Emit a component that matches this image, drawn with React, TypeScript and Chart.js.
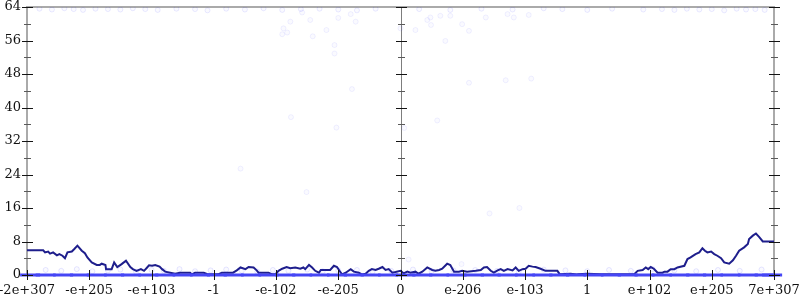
import React, { useEffect, useRef } from "react";
import { Chart, registerables } from "chart.js";

Chart.register(...registerables);

// Tick labels of the (float-ordinal) x axis, one per integer position -6..6
const xTickLabels = [
  "-2e+307", "-e+205", "-e+103", "-1", "-e-102", "-e-205", "0",
  "e-206", "e-103", "1", "e+102", "e+205", "7e+307",
];
const xMin = -6;
const xMax = 6;
const yMin = 0;
const yMax = 64;
const yStep = 8;

// Main (dark) line
const lineX = [
  -6.0, -5.74, -5.71, -5.66, -5.63, -5.58, -5.52, -5.48, -5.43, -5.39, -5.35, -5.28, -5.24, -5.19,
  -5.12, -5.07, -5.03, -4.96, -4.88, -4.83, -4.8, -4.74, -4.73, -4.64, -4.6, -4.55, -4.48, -4.41,
  -4.34, -4.3, -4.24, -4.17, -4.12, -4.07, -4.04, -3.99, -3.94, -3.87, -3.83, -3.78, -3.7, -3.62,
  -3.54, -3.38, -3.35, -3.3, -3.16, -3.09, -2.93, -2.87, -2.69, -2.63, -2.57, -2.49, -2.44, -2.36,
  -2.31, -2.28, -2.12, -2.06, -2.01, -1.96, -1.9, -1.83, -1.77, -1.69, -1.61, -1.56, -1.53, -1.47,
  -1.42, -1.37, -1.31, -1.28, -1.13, -1.07, -1.02, -0.98, -0.94, -0.88, -0.8, -0.75, -0.67, -0.62,
  -0.56, -0.51, -0.46, -0.4, -0.35, -0.29, -0.24, -0.19, -0.13, -0.08, 0.0,
  0.05, 0.11, 0.16, 0.24, 0.29, 0.35, 0.43, 0.51, 0.56, 0.62, 0.67, 0.75, 0.8, 0.86, 0.94, 0.99,
  1.07, 1.21, 1.29, 1.34, 1.39, 1.45, 1.5, 1.56, 1.61, 1.66, 1.72, 1.8, 1.85, 1.9, 1.96, 2.01,
  2.06, 2.12, 2.17, 2.25, 2.33, 2.52, 2.56, 2.73, 2.84, 3.0, 3.22, 3.75, 3.81, 3.89, 3.94, 3.98,
  4.02, 4.07, 4.13, 4.21, 4.24, 4.29, 4.34, 4.4, 4.45, 4.56, 4.61, 4.66, 4.74, 4.8, 4.85, 4.89,
  4.93, 4.99, 5.04, 5.09, 5.15, 5.2, 5.28, 5.34, 5.39, 5.44, 5.52, 5.58, 5.6, 5.66, 5.71, 5.76,
  5.82, 6.0,
];
const lineY = [
  5.9, 5.9, 5.4, 5.6, 5.1, 5.4, 4.7, 5.0, 4.6, 4.0, 5.4, 5.6, 6.2, 7.0,
  5.8, 5.2, 4.2, 3.0, 2.4, 2.4, 2.7, 2.4, 1.4, 1.4, 3.0, 1.9, 2.6, 3.4,
  1.9, 1.4, 1.0, 1.4, 1.0, 1.8, 2.3, 2.2, 2.4, 2.0, 1.4, 0.8, 0.55, 0.3,
  0.55, 0.55, 0.15, 0.55, 0.55, 0.15, 0.15, 0.55, 0.55, 1.1, 1.8, 1.4, 1.9, 1.8,
  1.1, 0.55, 0.55, 0.15, 0.15, 1.0, 1.5, 1.9, 1.6, 1.8, 1.5, 1.8, 1.4, 2.4,
  1.8, 1.0, 0.55, 1.2, 1.2, 2.2, 1.9, 1.0, 0.15, 0.55, 1.4, 0.8, 0.55, 0.15,
  0.3, 1.0, 1.4, 1.2, 1.5, 1.9, 1.2, 1.4, 0.55, 0.7, 1.0,
  0.4, 0.8, 0.55, 0.8, 0.3, 0.8, 1.8, 1.2, 1.0, 1.2, 1.5, 2.7, 2.4, 0.8, 0.8, 1.0,
  0.8, 1.0, 1.2, 1.8, 1.9, 1.0, 0.55, 1.1, 1.4, 1.0, 1.4, 1.1, 1.8, 1.0, 1.4, 1.5,
  2.2, 2.0, 1.9, 1.5, 1.0, 1.0, 0.15, 0.3, 0.15, 0.3, 0.15, 0.15, 1.0, 1.2, 1.8, 1.4,
  1.9, 1.5, 0.55, 0.55, 0.8, 0.8, 1.4, 1.4, 1.8, 2.2, 3.8, 4.2, 5.0, 5.4, 6.4, 5.8,
  5.4, 5.6, 5.0, 4.6, 4.0, 3.0, 2.7, 3.5, 4.6, 5.8, 6.6, 7.4, 8.6, 9.4, 9.9, 9.1,
  8.0, 8.0,
];

// Dense samples sitting at zero
const zeroBandX = [
  -5.95, -5.7, -5.42, -5.15, -4.88, -4.6, -4.33, -4.05, -3.78, -3.5, -3.22, -2.95, -2.68, -2.4,
  -2.12, -1.85, -1.58, -1.3, -1.02, -0.75, -0.48, -0.2, 0.08, 0.35, 0.62, 0.9, 1.18, 1.45, 1.72,
  2.0, 2.28, 2.55, 2.82, 3.1, 3.38, 3.65, 3.92, 4.2, 4.48, 4.75, 5.02, 5.3, 5.58, 5.85, 5.97,
];
const zeroBandY = zeroBandX.map(() => 0);

// Faint samples just above zero
const lowDotsX = [
  -5.7, -5.45, -5.2, -4.95, -4.7, -4.5, -4.25, -4.0, -3.8, -3.55, -3.3, -3.05, -2.8, -2.55, -2.3,
  -2.05, -1.8, -1.5, -1.25, -1.0, -0.7, -0.45, -0.15, 0.2, 0.5, 0.85, 1.2, 1.55, 1.9, 2.3, 2.65,
  3.0, 3.35, 3.7, 4.05, 4.4, 4.75, 5.1, 5.45, 5.8,
];
const lowDotsY = [
  1.2, 1.0, 1.4, 0.9, 1.1, 1.3, 0.8, 1.2, 1.0, 1.4, 0.9, 1.1, 1.3, 1.0, 0.8,
  1.2, 1.0, 1.3, 0.9, 1.1, 1.2, 0.8, 1.0, 1.3, 0.9, 1.1, 1.2, 1.0, 0.8, 1.3, 1.1,
  0.9, 1.2, 1.0, 1.4, 1.1, 0.9, 1.2, 1.0, 1.3,
];

// Faint samples at the top edge
const topDotsX = [
  -5.8, -5.6, -5.4, -5.25, -5.1, -4.9, -4.7, -4.5, -4.3, -4.1, -3.9, -3.6, -3.3, -3.1, -2.8,
  -2.5, -2.2, -1.9, -1.6, -1.3, -1.0, -0.7, -0.4, 0.3, 0.8, 1.3, 1.8, 2.3, 2.6, 3.0, 3.4, 3.9,
  4.2, 4.4, 4.6, 4.8, 5.0, 5.2, 5.4, 5.55, 5.7, 5.85,
];
const topDotsY = [
  63.6, 63.4, 63.7, 63.5, 63.3, 63.6, 63.5, 63.4, 63.7, 63.5, 63.3, 63.6, 63.5, 63.2, 63.6,
  63.4, 63.7, 63.3, 63.5, 63.6, 63.4, 63.2, 63.6, 63.5, 63.3, 63.6, 63.4, 63.7, 63.5, 63.3, 63.6, 63.4,
  63.5, 63.3, 63.6, 63.4, 63.5, 63.2, 63.6, 63.4, 63.5, 63.3,
];

// Scattered faint samples
const scatterDotsX = [
  -1.58, -1.88, -1.9, -1.82, -1.77, -1.45, -1.41, -1.19, -1.06, -1.06, -1.0, -0.8, -0.72, -0.78,
  -1.76, -1.03, 0.0, 0.24, 0.43, 0.48, 0.49, 0.64, 0.8, 0.99, 1.1, 0.72, 1.37, 1.72, 1.82, 2.06,
  1.1, 1.69, 2.1, 0.59, 0.06, -2.57, -1.51, 1.43, 1.91, 0.13, 0.98,
];
const scatterDotsY = [
  62.7, 58.9, 57.5, 57.9, 60.5, 60.9, 57.0, 58.5, 54.9, 52.9, 61.4, 62.3, 60.5, 44.4,
  37.7, 35.2, 58.9, 58.5, 60.9, 61.5, 59.7, 61.9, 61.9, 59.9, 58.3, 55.9, 61.5, 62.3, 61.5, 62.1,
  45.9, 46.5, 46.9, 36.9, 35.1, 25.4, 19.8, 14.7, 16.0, 3.7, 2.6,
];

const toPoints = (xs: number[], ys: number[]) => xs.map((x, i) => ({ x, y: ys[i] }));

const FONT = { family: "'DejaVu Serif', serif", size: 13 };

const axesPlugin = {
  id: "axesFrame",
  beforeDatasetsDraw(chart: any) {
    const { ctx, chartArea, scales } = chart;
    const { left, right, top, bottom } = chartArea;
    const xs = scales.x;
    ctx.save();
    ctx.strokeStyle = "rgb(170,170,170)";
    ctx.lineWidth = 2;
    ctx.beginPath();
    ctx.moveTo(left, bottom);
    ctx.lineTo(left, top);
    ctx.lineTo(right, top);
    ctx.lineTo(right, bottom);
    ctx.closePath();
    ctx.stroke();
    const mid = Math.round(xs.getPixelForValue(0)) + 0.5;
    ctx.strokeStyle = "rgb(125,125,125)";
    ctx.lineWidth = 1;
    ctx.beginPath();
    ctx.moveTo(mid, top);
    ctx.lineTo(mid, bottom);
    ctx.stroke();
    ctx.restore();
  },
  afterDatasetsDraw(chart: any) {
    const { ctx, chartArea, scales } = chart;
    const { left, right, bottom } = chartArea;
    const xs = scales.x;
    const ys = scales.y;
    const mid = xs.getPixelForValue(0);
    const columns = [left, mid, right];
    ctx.save();
    ctx.lineWidth = 1;
    const yTicks = ys.ticks.map((t: any) => t.value);
    yTicks.forEach((v: number, i: number) => {
      const py = Math.round(ys.getPixelForValue(v)) + 0.5;
      ctx.strokeStyle = "rgb(20,20,20)";
      columns.forEach((cx) => {
        const c = Math.round(cx);
        ctx.beginPath();
        ctx.moveTo(c - 5, py);
        ctx.lineTo(c + 6, py);
        ctx.stroke();
      });
      if (i < yTicks.length - 1) {
        const mv = (v + yTicks[i + 1]) / 2;
        const pm = Math.round(ys.getPixelForValue(mv)) + 0.5;
        ctx.strokeStyle = "rgb(90,90,90)";
        columns.forEach((cx) => {
          const c = Math.round(cx);
          ctx.beginPath();
          ctx.moveTo(c - 3, pm);
          ctx.lineTo(c + 4, pm);
          ctx.stroke();
        });
      }
    });
    ctx.strokeStyle = "rgb(20,20,20)";
    xs.ticks.forEach((t: any) => {
      const px = Math.round(xs.getPixelForValue(t.value)) + 0.5;
      ctx.beginPath();
      ctx.moveTo(px, bottom - 5);
      ctx.lineTo(px, bottom + 5);
      ctx.stroke();
    });
    ctx.restore();
  },
};

export default function App() {
  const canvasRef = useRef<HTMLCanvasElement | null>(null);

  useEffect(() => {
    if (!canvasRef.current) return;
    const faint = {
      type: "scatter" as const,
      showLine: false,
      pointRadius: 2.5,
      pointBackgroundColor: "rgba(60,60,255,0.025)",
      pointBorderColor: "rgba(60,60,255,0.07)",
      pointBorderWidth: 1,
    };
    const chart = new Chart(canvasRef.current, {
      type: "scatter",
      data: {
        datasets: [
          { ...faint, data: toPoints(scatterDotsX, scatterDotsY) },
          { ...faint, data: toPoints(topDotsX, topDotsY), pointBorderColor: "rgba(60,60,255,0.1)" },
          { ...faint, data: toPoints(lowDotsX, lowDotsY), pointBorderColor: "rgba(60,60,255,0.12)" },
          {
            type: "scatter",
            data: toPoints(zeroBandX, zeroBandY),
            showLine: false,
            pointStyle: "line",
            pointRadius: 10,
            pointBorderWidth: 3,
            pointBorderColor: "rgb(70,70,245)",
            clip: false,
          } as any,
          {
            type: "line",
            data: toPoints(lineX, lineY),
            borderColor: "#1e1e8c",
            borderWidth: 2,
            pointRadius: 0,
            fill: false,
            tension: 0,
          } as any,
        ],
      },
      options: {
        animation: false,
        responsive: true,
        maintainAspectRatio: false,
        layout: { padding: { top: 7, right: 26, left: 0, bottom: 0 }, autoPadding: false } as any,
        plugins: { legend: { display: false }, tooltip: { enabled: false } },
        events: [],
        scales: {
          x: {
            type: "linear",
            min: xMin,
            max: xMax,
            grid: { display: false, drawTicks: false },
            border: { display: false },
            ticks: {
              stepSize: 1,
              autoSkip: false,
              maxRotation: 0,
              padding: 8,
              color: "#111",
              font: FONT,
              callback: (v: any) => xTickLabels[Math.round(Number(v)) - xMin] ?? "",
            },
            afterFit: (s: any) => {
              s.height = 25;
              s.paddingLeft = 0;
              s.paddingRight = 0;
            },
          },
          y: {
            type: "linear",
            min: yMin,
            max: yMax,
            grid: { display: false, drawTicks: false },
            border: { display: false },
            ticks: { stepSize: yStep, padding: 6, color: "#111", font: FONT },
            afterFit: (s: any) => {
              s.width = 27;
              s.paddingTop = 0;
              s.paddingBottom = 0;
            },
          },
        },
      },
      plugins: [axesPlugin],
    });
    return () => chart.destroy();
  }, []);

  return (
    <div style={{ position: "fixed", left: 0, top: 0, width: 800, height: 300, background: "#fff" }}>
      <canvas ref={canvasRef} />
    </div>
  );
}
